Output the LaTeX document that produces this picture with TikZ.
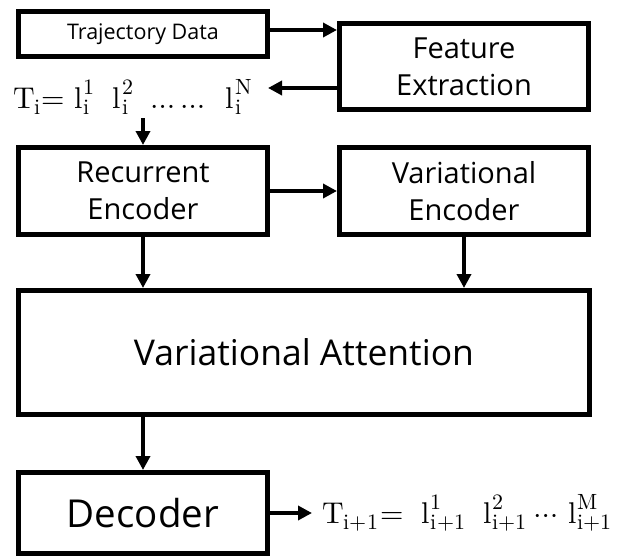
\documentclass[tikz,border=0pt]{standalone}
\usepackage{fontspec}
\usepackage{unicode-math}
\setmainfont{Open Sans}
\usetikzlibrary{arrows.meta}

% sub- and superscript stacked on one spot
\newcommand\scrpair[3][14pt]{\begingroup\fontsize{22}{22}\selectfont\ooalign{\raisebox{#1}{$\symup{#3}$}\cr\raisebox{-6pt}{$\symup{#2}$}\cr}\endgroup}

\tikzset{
  box/.style={draw, line width=5pt, rectangle, align=center, inner sep=0pt},
  arr/.style={line width=4.5pt, -{Triangle[length=14pt, width=14pt]}},
}

\begin{document}
\begin{tikzpicture}[x=1pt, y=-1pt]
\useasboundingbox (0,0) rectangle (622,557);
\node[box, minimum width=249pt, minimum height=45pt, font=\fontsize{21.5}{26}\selectfont] (traj) at (143,34) {Trajectory Data};
\node[box, minimum width=249pt, minimum height=86pt, font=\fontsize{29}{37}\selectfont] (feat) at (464,66.5) {Feature\\Extraction};
\node[anchor=base west, inner xsep=0pt, inner ysep=4pt, font=\fontsize{30}{36}\selectfont] (ti) at (13,108) {$\symup{T}$\scrpair{i}{}\hspace{1pt}$=$\hspace{9pt}$\symup{l}$\hspace{1pt}\scrpair{i}{1}\hspace{18pt}$\symup{l}$\hspace{1pt}\scrpair{i}{2}\hspace{17pt}$\ldots\ldots$\hspace{20pt}$\symup{l}$\hspace{1pt}\scrpair{i}{N}};
\coordinate (tiarr) at (268,88);
\node[box, minimum width=249pt, minimum height=87pt, font=\fontsize{29}{37}\selectfont] (rec) at (143,191) {Recurrent\\Encoder};
\node[box, minimum width=249pt, minimum height=87pt, font=\fontsize{29}{37}\selectfont] (var) at (464,191) {Variational\\Encoder};
\node[box, minimum width=571pt, minimum height=124pt, font=\fontsize{35.5}{42}\selectfont] (att) at (304,352.5) {Variational Attention};
\node[box, minimum width=249pt, minimum height=81pt, font=\fontsize{38.5}{46}\selectfont] (dec) at (143,513) {Decoder};
\node[anchor=base west, inner xsep=10pt, font=\fontsize{30}{36}\selectfont] (tnext) at (312,523) {$\symup{T}$\scrpair{i{+}1}{}\hspace{2pt}$=$\hspace{18pt}$\symup{l}$\hspace{1pt}\scrpair{i{+}1}{1}\hspace{18pt}$\symup{l}$\hspace{1pt}\scrpair{i{+}1}{2}\hspace{8pt}$\cdots$\hspace{10pt}$\symup{l}$\hspace{1pt}\scrpair{i{+}1}{M}};
\draw[arr] ([yshift=4pt]traj.east) -- ([yshift=4pt]traj.east -| feat.west);
\draw[arr] (feat.west |- tiarr) -- (tiarr);
\draw[arr] (ti.south -| rec.north) -- (rec.north);
\draw[arr] (rec.east) -- (var.west);
\draw[arr] (rec.south) -- (rec.south |- att.north);
\draw[arr] (var.south) -- (var.south |- att.north);
\draw[arr] (att.south -| dec.north) -- (dec.north);
\draw[arr] (dec.east) -- (tnext.west |- dec.east);
\end{tikzpicture}
\end{document}
